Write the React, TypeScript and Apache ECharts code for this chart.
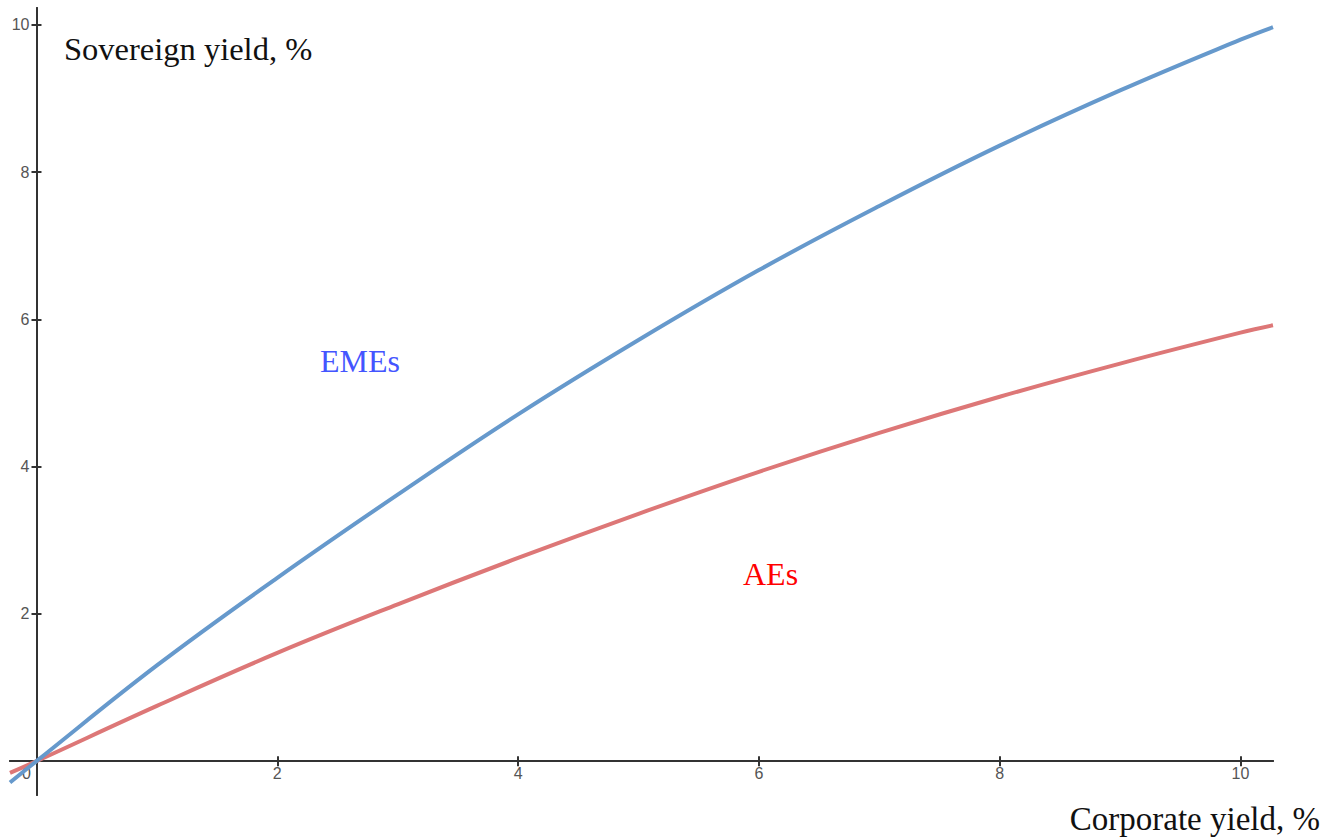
import React, { useEffect, useRef } from "react";
import * as echarts from "echarts";

// Corporate yield (x, %) sample points
const corporateYield = [-0.22, 0, 1, 2, 3, 4, 5, 6, 7, 8, 9, 10, 10.27];
// Sovereign yield (y, %) for EMEs
const emesYield = [-0.29, 0, 1.3, 2.49, 3.62, 4.71, 5.72, 6.67, 7.54, 8.36, 9.11, 9.8, 9.97];
// Sovereign yield (y, %) for AEs
const aesYield = [-0.16, 0, 0.75, 1.47, 2.13, 2.76, 3.36, 3.93, 4.46, 4.95, 5.4, 5.82, 5.92];

const xTickValues = [2, 4, 6, 8, 10];
const xLabelValues = [0, 2, 4, 6, 8, 10];
const yTickValues = [2, 4, 6, 8, 10];

const X_MIN = -0.22;
const X_MAX = 10.27;
const Y_MIN = -0.46;
const Y_MAX = 10.23;

const SERIF = '"Liberation Serif", "Times New Roman", serif';

const GRID = { left: 10, right: 56, top: 8, bottom: 45 };
const W = 1329;
const H = 840;

export default function App() {
  const ref = useRef<HTMLDivElement>(null);

  useEffect(() => {
    if (!ref.current) return;
    const chart = echarts.init(ref.current, null, { renderer: "svg" });

    // place axes where the other axis is zero (computed from scale)
    const plotW = W - GRID.left - GRID.right;
    const plotH = H - GRID.top - GRID.bottom;
    const yAxisOffset = -((0 - X_MIN) / (X_MAX - X_MIN)) * plotW;
    const xAxisOffset = -((0 - Y_MIN) / (Y_MAX - Y_MIN)) * plotH;

    const axisLineStyle = { color: "#333", width: 2 };
    const labelStyle = {
      color: "#555",
      fontSize: 16,
      fontFamily: '"Liberation Sans", Arial, sans-serif',
    };

    const baseX = {
      type: "value",
      min: X_MIN,
      max: X_MAX,
      position: "bottom",
      offset: xAxisOffset,
      splitLine: { show: false },
      axisLine: { show: true, onZero: false, lineStyle: axisLineStyle },
    };
    const baseY = {
      type: "value",
      min: Y_MIN,
      max: Y_MAX,
      position: "left",
      offset: yAxisOffset,
      splitLine: { show: false },
      axisLine: { show: true, onZero: false, lineStyle: axisLineStyle },
    };

    const mkData = (ys: number[]) => corporateYield.map((x, i) => [x, ys[i]]);

    chart.setOption({
      animation: false,
      grid: { ...GRID, containLabel: false, outerBoundsMode: "none" },
      xAxis: [
        {
          ...baseX,
          axisTick: {
            show: true,
            length: 5,
            customValues: xTickValues,
            lineStyle: axisLineStyle,
          },
          axisLabel: {
            ...labelStyle,
            margin: 4,
            customValues: xLabelValues,
            formatter: (v: number) => (v === 0 ? "{z|0}" : String(v)),
            rich: { z: { ...labelStyle, padding: [0, 20, 0, 0] } },
          },
        },
        {
          ...baseX,
          axisTick: {
            show: true,
            inside: true,
            length: 5,
            customValues: xTickValues,
            lineStyle: axisLineStyle,
          },
          axisLabel: { show: false },
        },
      ],
      yAxis: [
        {
          ...baseY,
          axisTick: {
            show: true,
            length: 5,
            customValues: yTickValues,
            lineStyle: axisLineStyle,
          },
          axisLabel: {
            ...labelStyle,
            margin: 7,
            customValues: yTickValues,
          },
        },
        {
          ...baseY,
          axisTick: {
            show: true,
            inside: true,
            length: 5,
            customValues: yTickValues,
            lineStyle: axisLineStyle,
          },
          axisLabel: { show: false },
        },
      ],
      series: [
        {
          name: "EMEs",
          type: "line",
          data: mkData(emesYield),
          smooth: 0.4,
          showSymbol: false,
          lineStyle: { color: "#6699cc", width: 4 },
          z: 3,
        },
        {
          name: "AEs",
          type: "line",
          data: mkData(aesYield),
          smooth: 0.4,
          showSymbol: false,
          lineStyle: { color: "#dd7777", width: 4 },
          z: 2,
        },
      ],
      graphic: [
        {
          type: "text",
          x: 64,
          y: 49,
          style: {
            text: "Sovereign yield, %",
            font: `32.5px ${SERIF}`,
            fill: "#111",
            align: "left",
            verticalAlign: "middle",
          },
        },
        {
          type: "text",
          x: 1320,
          y: 819,
          style: {
            text: "Corporate yield, %",
            font: `33px ${SERIF}`,
            fill: "#111",
            align: "right",
            verticalAlign: "middle",
          },
        },
        {
          type: "text",
          x: 320,
          y: 361,
          style: {
            text: "EMEs",
            font: `32px ${SERIF}`,
            fill: "#4455ff",
            align: "left",
            verticalAlign: "middle",
          },
        },
        {
          type: "text",
          x: 743,
          y: 574,
          style: {
            text: "AEs",
            font: `32px ${SERIF}`,
            fill: "#ff0000",
            align: "left",
            verticalAlign: "middle",
          },
        },
      ],
    });

    return () => chart.dispose();
  }, []);

  return (
    <div
      ref={ref}
      style={{ position: "fixed", left: 0, top: 0, width: W, height: H, background: "#fff" }}
    />
  );
}
